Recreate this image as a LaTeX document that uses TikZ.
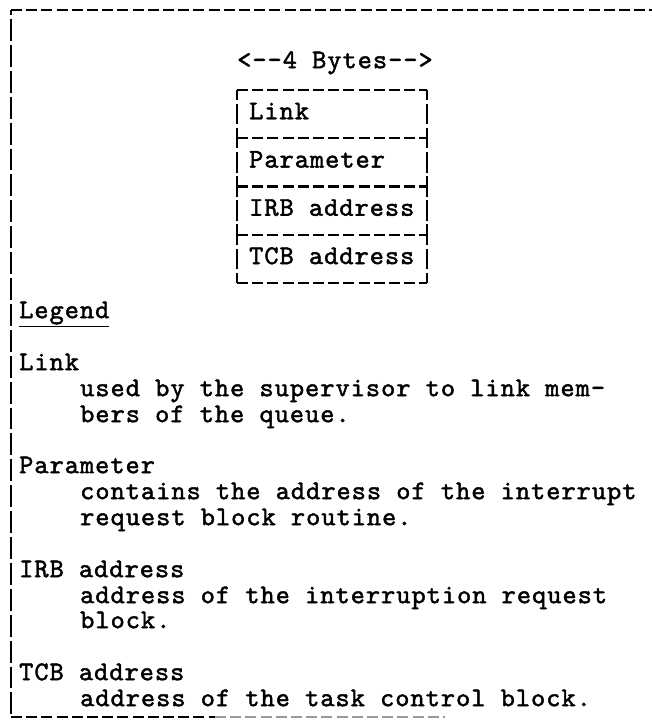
\documentclass[tikz,border=0pt]{standalone}
\usepackage{fontspec}
\newfontfamily\twfont{lmmono10-regular.otf}[FakeBold=1.7, LetterSpace=3.8]
\begin{document}
\begin{tikzpicture}[x=1pt,y=-1pt,
  txt/.style={font=\twfont\fontsize{27}{28}\selectfont, inner sep=0pt, anchor=mid west},
  hdash/.style={line width=2.3pt, dash pattern=on 11pt off 4.2pt},
  vbar/.style={line width=2.5pt, dash pattern=on 21.9pt off 4pt, dash phase=16.9pt},
  boxv/.style={line width=2.3pt, dash pattern=on 20.5pt off 3.625pt, dash phase=10.25pt},
  cell/.style={minimum width=190pt, minimum height=48.25pt, inner sep=0pt, outer sep=0pt}
]
\useasboundingbox (0,0) rectangle (652,721);
% outer frame
\coordinate (tl) at (11,10);
\coordinate (tr) at (652,10);
\coordinate (bl) at (11,717);
\coordinate (bm) at (215,717);
\coordinate (br) at (445,717);
\draw[hdash] (tl) -- (tr);
\draw[vbar] (tl) -- (bl);
\draw[hdash] (bl) -- (bm);
\draw[hdash, black!40] (bm) -- (br);
% header
\node[txt] (bytes) at (237,66) {<--4 Bytes-->};
% box rows
\node[cell] (r1) at (332,114.1) {};
\node[cell] (r2) at (332,162.4) {};
\node[cell] (r3) at (332,210.6) {};
\node[cell] (r4) at (332,258.9) {};
\draw[hdash] (r1.north west) -- (r1.north east);
\draw[hdash] (r2.north west) -- (r2.north east);
\draw[hdash] (r3.north west) -- (r3.north east);
\draw[hdash] (r4.north west) -- (r4.north east);
\draw[hdash] (r4.south west) -- (r4.south east);
\draw[boxv] (r1.north west) -- (r4.south west);
\draw[boxv] (r1.north east) -- (r4.south east);
\node[txt] (t1) at ([xshift=12pt,yshift=-3pt]r1.west) {Link};
\node[txt] (t2) at ([xshift=12pt,yshift=-3pt]r2.west) {Parameter};
\node[txt] (t3) at ([xshift=12pt,yshift=-3pt]r3.west) {IRB address};
\node[txt] (t4) at ([xshift=12pt,yshift=-3pt]r4.west) {TCB address};
% legend
\node[txt] (lg) at (19,316) {\underline{Legend}};
\node[txt] (h1) at (19,368) {Link};
\node[txt] (d1a) at (80,394) {used by the supervisor to link mem-};
\node[txt] (d1b) at (80,420) {bers of the queue.};
\node[txt] (h2) at (19,471) {Parameter};
\node[txt] (d2a) at (80,497) {contains the address of the interrupt};
\node[txt] (d2b) at (80,523) {request block routine.};
\node[txt] (h3) at (19,575) {IRB address};
\node[txt] (d3a) at (80,601) {address of the interruption request};
\node[txt] (d3b) at (80,626) {block.};
\node[txt] (h4) at (19,678) {TCB address};
\node[txt] (d4a) at (80,704) {address of the task control block.};
\end{tikzpicture}
\end{document}
